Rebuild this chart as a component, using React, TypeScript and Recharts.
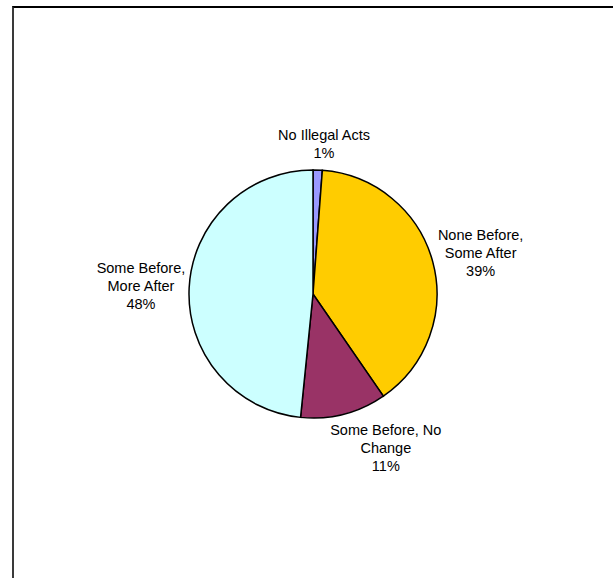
import React from "react";
import { PieChart, Pie, Cell } from "recharts";

const categories = [
  "No Illegal Acts",
  "None Before, Some After",
  "Some Before, No Change",
  "Some Before, More After",
];
const values = [1.2, 39.2, 11.2, 48.4];
const labelLines = [
  ["No Illegal Acts"],
  ["None Before,", "Some After"],
  ["Some Before, No", "Change"],
  ["Some Before,", "More After"],
];
const colors = ["#9999FF", "#FFCC00", "#993366", "#CCFFFF"];

const data = categories.map((name, i) => ({ name, value: values[i] }));
const total = values.reduce((a, b) => a + b, 0);

const LINE_H = 18;
const FONT = "'Liberation Sans', Arial, sans-serif";

const renderLabel = (props: any) => {
  const { cx, cy, midAngle, outerRadius, index, value } = props;
  const RAD = Math.PI / 180;
  const cos = Math.cos(-midAngle * RAD);
  const sin = Math.sin(-midAngle * RAD);
  const ra = outerRadius + 8;
  const ax = cx + ra * cos;
  const ay = cy + ra * sin;
  const lines = [...labelLines[index], `${Math.round((value / total) * 100)}%`];
  const w = Math.max(...lines.map((l) => l.length)) * 6.7;
  const h = lines.length * LINE_H;
  const kx = Math.max(-1, Math.min(1, cos * 3.2));
  const bx = ax + (kx * w) / 2;
  const by = ay + (sin * h) / 2;
  const top = by - h / 2;
  return (
    <text
      key={`lbl-${index}`}
      x={bx}
      y={top}
      textAnchor="middle"
      fill="#000"
      style={{ fontFamily: FONT, fontSize: 14.5 }}
    >
      {lines.map((l, i) => (
        <tspan key={i} x={bx} y={top + LINE_H * (i + 0.5)} dominantBaseline="central">
          {l}
        </tspan>
      ))}
    </text>
  );
};

export default function App() {
  return (
    <div
      style={{
        position: "absolute",
        left: 0,
        top: 0,
        width: 613,
        height: 578,
        background: "#fff",
        overflow: "hidden",
      }}
    >
      <div
        style={{
          position: "absolute",
          left: 12,
          top: 6,
          width: 640,
          height: 640,
          borderTop: "2px solid #000",
          borderLeft: "2px solid #3a3a3a",
          boxSizing: "border-box",
        }}
      />
      <div style={{ position: "absolute", left: 0, top: 0 }}>
        <PieChart width={613} height={578} margin={{ top: 0, right: 0, bottom: 0, left: 0 }}>
          <Pie
            data={data}
            dataKey="value"
            nameKey="name"
            cx={313}
            cy={294}
            outerRadius={124}
            startAngle={90}
            endAngle={-270}
            stroke="#000"
            strokeWidth={1.5}
            label={renderLabel}
            labelLine={false}
            isAnimationActive={false}
          >
            {data.map((d, i) => (
              <Cell key={d.name} fill={colors[i]} />
            ))}
          </Pie>
        </PieChart>
      </div>
    </div>
  );
}
